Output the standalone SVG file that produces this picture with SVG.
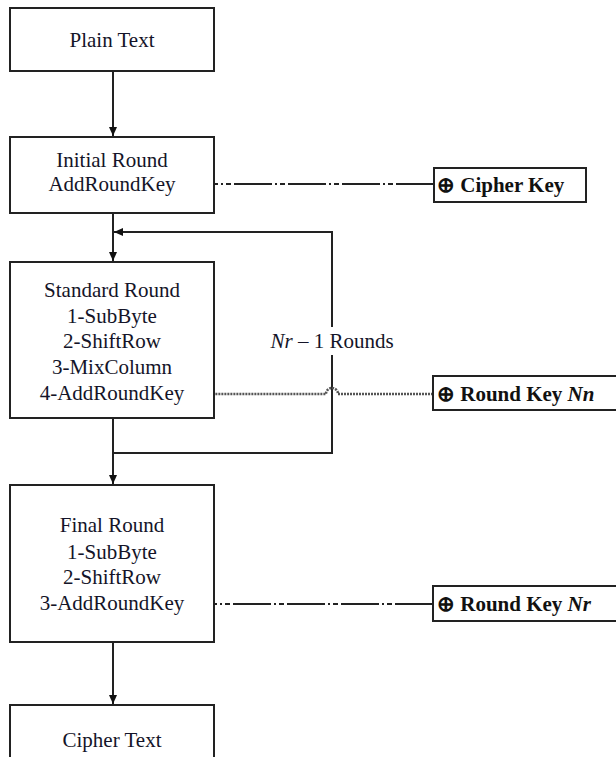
<svg xmlns="http://www.w3.org/2000/svg" width="616" height="757" viewBox="0 0 616 757">
<defs>
<style>
.box{fill:#fff;stroke:#222;stroke-width:2}
.t{font-family:"Liberation Serif","Times New Roman",serif;font-size:21px;fill:#141428;text-anchor:middle}
.k{font-family:"Liberation Serif","Times New Roman",serif;font-size:21px;fill:#111;font-weight:bold}
.ln{fill:none;stroke:#222;stroke-width:2}
.dd{fill:none;stroke:#222;stroke-width:2;stroke-dasharray:38 3 5 3 2 3}
.dot{fill:none;stroke:#555;stroke-width:2.5;stroke-dasharray:2 1}
</style>
<marker id="ah" markerWidth="10" markerHeight="10" refX="9" refY="5" orient="auto" markerUnits="userSpaceOnUse">
<path d="M0,1 L9,5 L0,9 Z" fill="#111"/>
</marker>
</defs>
<rect width="616" height="757" fill="#fff"/>
<g id="connectors">
<line class="ln" x1="113" y1="71" x2="113" y2="136" marker-end="url(#ah)"/>
<line class="ln" x1="113" y1="213" x2="113" y2="261" marker-end="url(#ah)"/>
<line class="ln" x1="113" y1="418" x2="113" y2="484" marker-end="url(#ah)"/>
<line class="ln" x1="113" y1="642" x2="113" y2="704" marker-end="url(#ah)"/>
<path class="ln" d="M113,453 H332 V355"/>
<path class="ln" d="M332,327 V232 H114" marker-end="url(#ah)"/>
<line class="dd" x1="434" y1="184" x2="191" y2="184" marker-end="url(#ah)"/>
<path class="dot" d="M433,394 H338 A6,6 0 0 0 326,394 H199" marker-end="url(#ah)"/>
<line class="dd" x1="433" y1="604" x2="197" y2="604" marker-end="url(#ah)"/>
</g>
<g id="plain-text">
<rect class="box" x="10" y="8" width="204" height="63"/>
<text class="t" x="112" y="47">Plain Text</text>
</g>
<g id="initial-round">
<rect class="box" x="10" y="137" width="204" height="76"/>
<text class="t" x="112" y="167">Initial Round</text>
<text class="t" x="112" y="191">AddRoundKey</text>
</g>
<g id="cipher-key">
<rect class="box" x="434" y="168" width="152" height="34"/>
<text class="k" x="437" y="192">⊕ Cipher Key</text>
</g>
<g id="standard-round">
<rect class="box" x="10" y="262" width="204" height="156"/>
<text class="t" x="112" y="297">Standard Round</text>
<text class="t" x="112" y="323">1-SubByte</text>
<text class="t" x="112" y="348">2-ShiftRow</text>
<text class="t" x="112" y="374">3-MixColumn</text>
<text class="t" x="112" y="400">4-AddRoundKey</text>
</g>
<g id="rounds-label">
<text class="t" x="332" y="348"><tspan font-style="italic">Nr</tspan> – 1 Rounds</text>
</g>
<g id="round-key-nn">
<rect class="box" x="433" y="376" width="200" height="34"/>
<text class="k" x="437" y="401">⊕ Round Key <tspan font-style="italic">Nn</tspan></text>
</g>
<g id="final-round">
<rect class="box" x="10" y="485" width="204" height="157"/>
<text class="t" x="112" y="532">Final Round</text>
<text class="t" x="112" y="559">1-SubByte</text>
<text class="t" x="112" y="584">2-ShiftRow</text>
<text class="t" x="112" y="610">3-AddRoundKey</text>
</g>
<g id="round-key-nr">
<rect class="box" x="433" y="586" width="200" height="35"/>
<text class="k" x="437" y="611">⊕ Round Key <tspan font-style="italic">Nr</tspan></text>
</g>
<g id="cipher-text">
<rect class="box" x="10" y="705" width="204" height="70"/>
<text class="t" x="112" y="747">Cipher Text</text>
</g>
</svg>
